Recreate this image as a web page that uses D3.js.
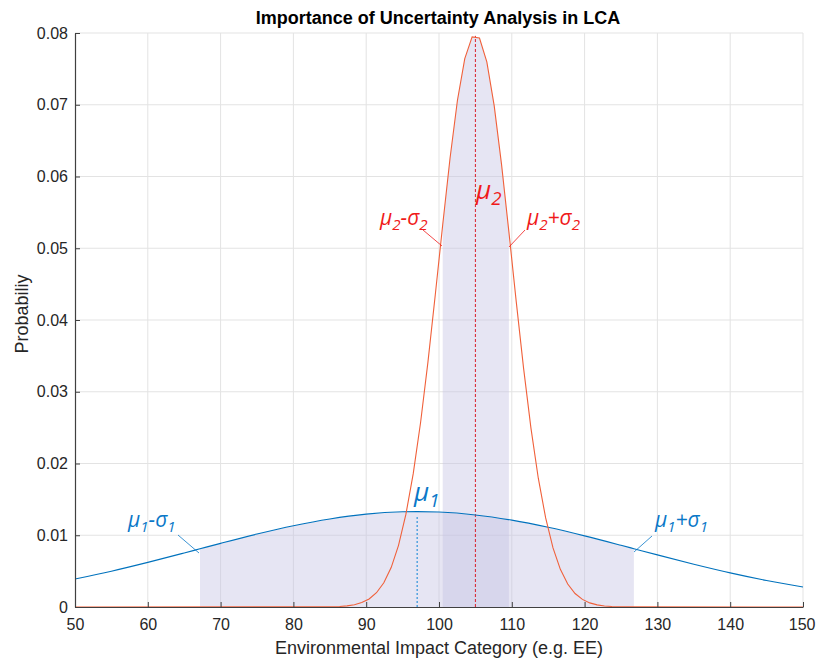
<!DOCTYPE html>
<html>
<head>
<meta charset="utf-8">
<script src="https://cdn.jsdelivr.net/npm/d3@7"></script>
<style>
  html, body { margin: 0; padding: 0; background: #fff; }
  svg { display: block; }
</style>
</head>
<body>
<svg id="chart" width="816" height="659"></svg>
<script>
// ---- data ----
const xTicks = [50, 60, 70, 80, 90, 100, 110, 120, 130, 140, 150];
const yTicks = [0, 0.01, 0.02, 0.03, 0.04, 0.05, 0.06, 0.07, 0.08];
const yTickLabels = ["0", "0.01", "0.02", "0.03", "0.04", "0.05", "0.06", "0.07", "0.08"];

// series 1 (blue, wide distribution)
const blueX = [50, 55, 60, 65, 67.17, 70, 75, 80, 85, 90, 95, 97, 100, 105, 110, 115, 120, 125, 126.77, 130, 135, 140, 145, 150];
const blueY = [0.003898, 0.004991, 0.006215, 0.007529, 0.008112, 0.008870, 0.010163, 0.011326, 0.012275, 0.012941, 0.013268, 0.013298, 0.013232, 0.012833, 0.012106, 0.011107, 0.009912, 0.008603, 0.008128, 0.007262, 0.005962, 0.004761, 0.003697, 0.002793];

// series 2 (red, narrow distribution)
const redX = [50, 84.34, 85.35, 86.36, 87.37, 88.38, 89.39, 90.40, 91.41, 92.42, 93.43, 94.44, 95.45, 96.46, 97.47, 98.48, 99.49, 100.51, 101.52, 102.53, 103.54, 104.55, 105.56, 106.57, 107.58, 108.59, 109.60, 110.61, 111.62, 112.63, 113.64, 114.65, 115.66, 116.67, 117.68, 118.69, 119.70, 120.71, 121.72, 122.73, 123.74, 124.75, 125.76, 150];
const redY = [0, 0.0000157, 0.0000355, 0.0000768, 0.000160, 0.000319, 0.000612, 0.001126, 0.001990, 0.003374, 0.005498, 0.008593, 0.01290, 0.01858, 0.02571, 0.03413, 0.04352, 0.05327, 0.06258, 0.07059, 0.07644, 0.07946, 0.07930, 0.07597, 0.06987, 0.06169, 0.05229, 0.04256, 0.03325, 0.02493, 0.01795, 0.01241, 0.008234, 0.005245, 0.003206, 0.001882, 0.001061, 0.000574, 0.000298, 0.000149, 0.000071, 0.000033, 0.000014, 0];

// shaded ranges (mu - sigma .. mu + sigma)
const blueRange = [67.17, 126.77];
const redRange = [100.51, 109.60];

// means
const meanX = [97, 105];
const meanTop = [0.0133, 0.0796];

// ---- layout ----
const svg = d3.select("#chart");
const L = 75, R = 803, T = 33, B = 607;
const x = d3.scaleLinear().domain([50, 150]).range([L, R]);
const y = d3.scaleLinear().domain([0, 0.08]).range([B, T]);

const blue = "#0072BD";
const red = "#F0603A";
const txtBlue = "#0A78C8";
const txtRed = "#F01A1A";
const axisCol = "#404040";
const gridCol = "#E3E3E3";
const sans = "Liberation Sans, Arial, sans-serif";

// grid
const g = svg.append("g");
g.selectAll("line.vg").data(xTicks.slice(1)).join("line")
  .attr("x1", d => x(d)).attr("x2", d => x(d)).attr("y1", T).attr("y2", B)
  .attr("stroke", gridCol).attr("stroke-width", 1);
g.selectAll("line.hg").data(yTicks.slice(1)).join("line")
  .attr("x1", L).attr("x2", R).attr("y1", d => y(d)).attr("y2", d => y(d))
  .attr("stroke", gridCol).attr("stroke-width", 1);

// shaded areas
const bluePts = blueX.map((v, i) => [v, blueY[i]]);
const redPts = redX.map((v, i) => [v, redY[i]]);
const area = d3.area().x(d => x(d[0])).y0(y(0)).y1(d => y(d[1]));
const shade = "rgb(196,194,226)";
svg.append("path")
  .datum(bluePts.filter(d => d[0] >= blueRange[0] && d[0] <= blueRange[1]))
  .attr("d", area).attr("fill", shade).attr("fill-opacity", 0.42);
svg.append("path")
  .datum(redPts.filter(d => d[0] >= redRange[0] - 1e-9 && d[0] <= redRange[1] + 1e-9))
  .attr("d", area).attr("fill", shade).attr("fill-opacity", 0.42);

// mean lines
svg.append("line")
  .attr("x1", x(meanX[0])).attr("x2", x(meanX[0])).attr("y1", y(0)).attr("y2", y(meanTop[0]) + 4)
  .attr("stroke", "#2E93DA").attr("stroke-width", 1.2).attr("stroke-dasharray", "2,2");
svg.append("line")
  .attr("x1", x(meanX[1])).attr("x2", x(meanX[1])).attr("y1", y(0)).attr("y2", y(meanTop[1]))
  .attr("stroke", "#D8202A").attr("stroke-width", 1).attr("stroke-dasharray", "3,2");

// curves
const line = d3.line().x(d => x(d[0])).y(d => y(d[1]));
svg.append("path").datum(bluePts).attr("d", d3.line().x(d => x(d[0])).y(d => y(d[1])).curve(d3.curveMonotoneX))
  .attr("fill", "none").attr("stroke", blue).attr("stroke-width", 1.1);
svg.append("path").datum(redPts).attr("d", line)
  .attr("fill", "none").attr("stroke", red).attr("stroke-width", 1.1);

// axes
const xAxis = d3.axisBottom(x).tickValues(xTicks).tickSizeInner(-5).tickSizeOuter(0).tickPadding(12);
const yAxis = d3.axisLeft(y).tickValues(yTicks).tickFormat((d, i) => yTickLabels[i]).tickSizeInner(-5).tickSizeOuter(0).tickPadding(7);
const gx = svg.append("g").attr("transform", `translate(0,${B})`).call(xAxis);
const gy = svg.append("g").attr("transform", `translate(${L},0)`).call(yAxis);
[gx, gy].forEach(a => {
  a.select(".domain").attr("stroke", axisCol).attr("stroke-width", 1.2);
  a.selectAll(".tick line").attr("stroke", axisCol).attr("stroke-width", 1);
  a.selectAll(".tick text").attr("fill", "#262626")
    .style("font-family", sans).style("font-size", "16px");
});
gx.selectAll(".tick text").attr("dy", "0.71em");
// keep the last x label inside the picture
gx.selectAll(".tick text").filter(d => d === 150).attr("text-anchor", "end").attr("dx", "12");

// titles
svg.append("text").attr("x", 438).attr("y", 24).attr("text-anchor", "middle")
  .style("font-family", sans).style("font-size", "18px").style("font-weight", "bold")
  .attr("fill", "#000").text("Importance of Uncertainty Analysis in LCA");
svg.append("text").attr("x", 439).attr("y", 654).attr("text-anchor", "middle")
  .style("font-family", sans).style("font-size", "18px")
  .attr("fill", "#262626").text("Environmental Impact Category (e.g. EE)");
svg.append("text").attr("transform", "translate(28,314) rotate(-90)").attr("text-anchor", "middle")
  .style("font-family", sans).style("font-size", "18px")
  .attr("fill", "#262626").text("Probabiliy");

// annotations
const annFont = "Open Sans, Noto Sans, sans-serif";
function label(px, py, parts, color, size) {
  const t = svg.append("text").attr("x", px).attr("y", py)
    .style("font-family", annFont).style("font-style", "italic").style("font-size", size + "px")
    .attr("fill", color);
  parts.forEach(p => {
    const s = t.append("tspan").text(p.t);
    if (p.sub) s.attr("dy", size * 0.22).style("font-size", (size * 0.72) + "px");
    if (p.up) s.attr("dy", -size * 0.22);
  });
  return t;
}
const sm = (a, b) => [{t: "\u03BC"}, {t: a, sub: true}, {t: "-", up: true}, {t: "\u03C3"}, {t: b, sub: true}];
const sp = (a, b) => [{t: "\u03BC"}, {t: a, sub: true}, {t: "+", up: true}, {t: "\u03C3"}, {t: b, sub: true}];

label(128, 527, sm("1", "1"), txtBlue, 21);
label(655, 527, sp("1", "1"), txtBlue, 21);
label(380, 225, sm("2", "2"), txtRed, 21);
label(527, 225, sp("2", "2"), txtRed, 21);
label(414, 501, [{t: "\u03BC"}, {t: "1", sub: true}], txtBlue, 26);
label(476, 199, [{t: "\u03BC"}, {t: "2", sub: true}], txtRed, 26);

// leader lines
const leaders = [
  [178, 535, 199, 553, txtBlue],
  [652, 536, 634, 552, txtBlue],
  [423, 230, 442, 246, txtRed],
  [525, 230, 509, 247, txtRed]
];
svg.selectAll("line.leader").data(leaders).join("line")
  .attr("x1", d => d[0]).attr("y1", d => d[1]).attr("x2", d => d[2]).attr("y2", d => d[3])
  .attr("stroke", d => d[4]).attr("stroke-width", 0.8);
</script>
</body>
</html>
